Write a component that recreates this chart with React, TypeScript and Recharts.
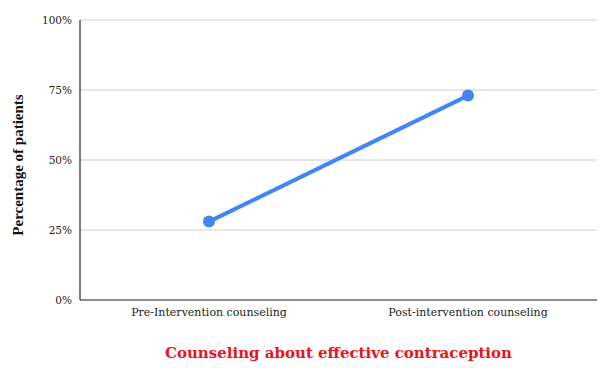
import React from 'react';
import { LineChart, Line, XAxis, YAxis, CartesianGrid, Label } from 'recharts';

const categories = ['Pre-Intervention counseling', 'Post-intervention counseling'];
const percentValues = [28, 73];
const yTicks = [0, 25, 50, 75, 100];

const data = categories.map((c, i) => ({ name: c, value: percentValues[i] }));

const FONT = '"DejaVu Serif", serif';

const YLabel = (props: any) => {
  const vb = props.viewBox || {};
  const cx = (vb.x || 0) + 18;
  const cy = (vb.y || 0) + (vb.height || 0) / 2 + 5;
  return (
    <text
      x={cx}
      y={cy}
      transform={`rotate(-90, ${cx}, ${cy})`}
      textAnchor="middle"
      dominantBaseline="central"
      style={{ fill: '#111', fontSize: 15, fontWeight: 'bold', fontFamily: '"Liberation Serif", serif' }}
    >
      Percentage of patients
    </text>
  );
};

export default function App() {
  return (
    <div style={{ position: 'fixed', left: 0, top: 0, background: '#fff' }}>
      <LineChart width={607} height={368} data={data} margin={{ top: 20, right: 10, left: 0, bottom: 38 }}>
        <CartesianGrid vertical={false} stroke="#cccccc" />
        <XAxis
          dataKey="name"
          tickLine={false}
          padding={{ left: 129, right: 129 }}
          axisLine={{ stroke: '#333333', strokeWidth: 1 }}
          tick={{ fill: '#222', fontSize: 11, fontFamily: FONT }}
          height={30}
        >
          <Label
            value="Counseling about effective contraception"
            position="bottom"
            offset={0}
            dy={17}
            style={{ fill: '#e8131b', fontSize: 15, fontWeight: 'bold', fontFamily: FONT }}
          />
        </XAxis>
        <YAxis
          domain={[0, 100]}
          ticks={yTicks}
          tickFormatter={(v: number) => `${v}%`}
          tickLine={false}
          axisLine={{ stroke: '#000', strokeWidth: 1 }}
          tick={{ fill: '#222', fontSize: 10.5, fontFamily: FONT }}
          width={80}
        >
          <Label content={<YLabel />} />
        </YAxis>
        <Line
          type="linear"
          dataKey="value"
          stroke="#4285f4"
          strokeWidth={4}
          dot={{ r: 6, fill: '#4285f4', stroke: '#4285f4', strokeWidth: 0 }}
          isAnimationActive={false}
        />
      </LineChart>
    </div>
  );
}
